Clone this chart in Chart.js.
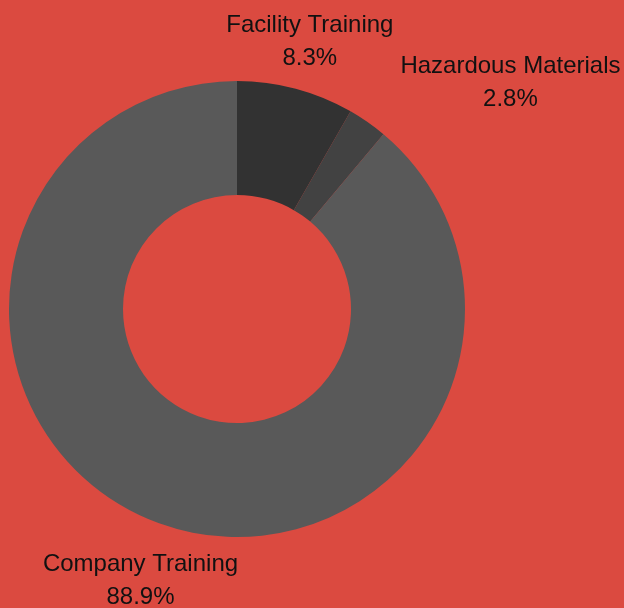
<!DOCTYPE html>
<html>
<head>
<meta charset="utf-8">
<style>
  html, body { margin: 0; padding: 0; background: #db4a40; }
  #wrap { width: 624px; height: 608px; position: relative; }
</style>
<script src="https://cdn.jsdelivr.net/npm/chart.js@4/dist/chart.umd.min.js"></script>
</head>
<body>
<div id="wrap"><canvas id="chart"></canvas></div>
<script>
"use strict";

const categories = ["Facility Training", "Hazardous Materials", "Company Training"];
const shares = [8.3, 2.8, 88.9];
const sliceColors = ["#323232", "#424242", "#595959"];

const LABEL_FONT = "24px 'Liberation Sans', Arial, sans-serif";
const LINE_GAP = 33;
const LABEL_GAP = 7;
const LABEL_DROP = 6;

// labels outside the ring, pushed sideways when they collide
const outerLabels = {
  id: "outerLabels",
  afterDraw(chart) {
    const ctx = chart.ctx;
    const arcs = chart.getDatasetMeta(0).data;
    const placed = [];
    ctx.save();
    ctx.font = LABEL_FONT;
    ctx.fillStyle = "#111111";
    ctx.textAlign = "center";
    ctx.textBaseline = "middle";
    arcs.forEach((arc, i) => {
      const p = arc.getProps(["x", "y", "startAngle", "endAngle", "outerRadius"], true);
      const mid = (p.startAngle + p.endAngle) / 2;
      const r = p.outerRadius * 1.239;
      let cx = p.x + Math.cos(mid) * r;
      const cy = p.y + Math.sin(mid) * r + LABEL_DROP;
      const name = categories[i];
      const pct = shares[i].toFixed(1) + "%";
      const w = Math.max(ctx.measureText(name).width, ctx.measureText(pct).width);
      const h = LINE_GAP + 24;
      const dir = Math.cos(mid) >= 0 ? 1 : -1;
      for (const b of placed) {
        const box = { l: cx - w / 2, r: cx + w / 2, t: cy - h / 2, b: cy + h / 2 };
        if (box.l < b.r && box.r > b.l && box.t < b.b && box.b > b.t) {
          cx = dir > 0 ? b.r + LABEL_GAP + w / 2 : b.l - LABEL_GAP - w / 2;
        }
      }
      placed.push({ l: cx - w / 2, r: cx + w / 2, t: cy - h / 2, b: cy + h / 2 });
      ctx.fillText(name, cx, cy - LINE_GAP / 2);
      ctx.fillText(pct, cx, cy + LINE_GAP / 2);
    });
    ctx.restore();
  },
};

new Chart(document.getElementById("chart"), {
  type: "doughnut",
  data: {
    labels: categories,
    datasets: [{
      data: shares,
      backgroundColor: sliceColors,
      borderWidth: 0,
    }],
  },
  options: {
    responsive: true,
    maintainAspectRatio: false,
    animation: false,
    cutout: "50%",
    layout: { padding: { left: 9, right: 159, top: 81, bottom: 71 } },
    plugins: {
      legend: { display: false },
      tooltip: { enabled: false },
    },
  },
  plugins: [outerLabels],
});
</script>
</body>
</html>
